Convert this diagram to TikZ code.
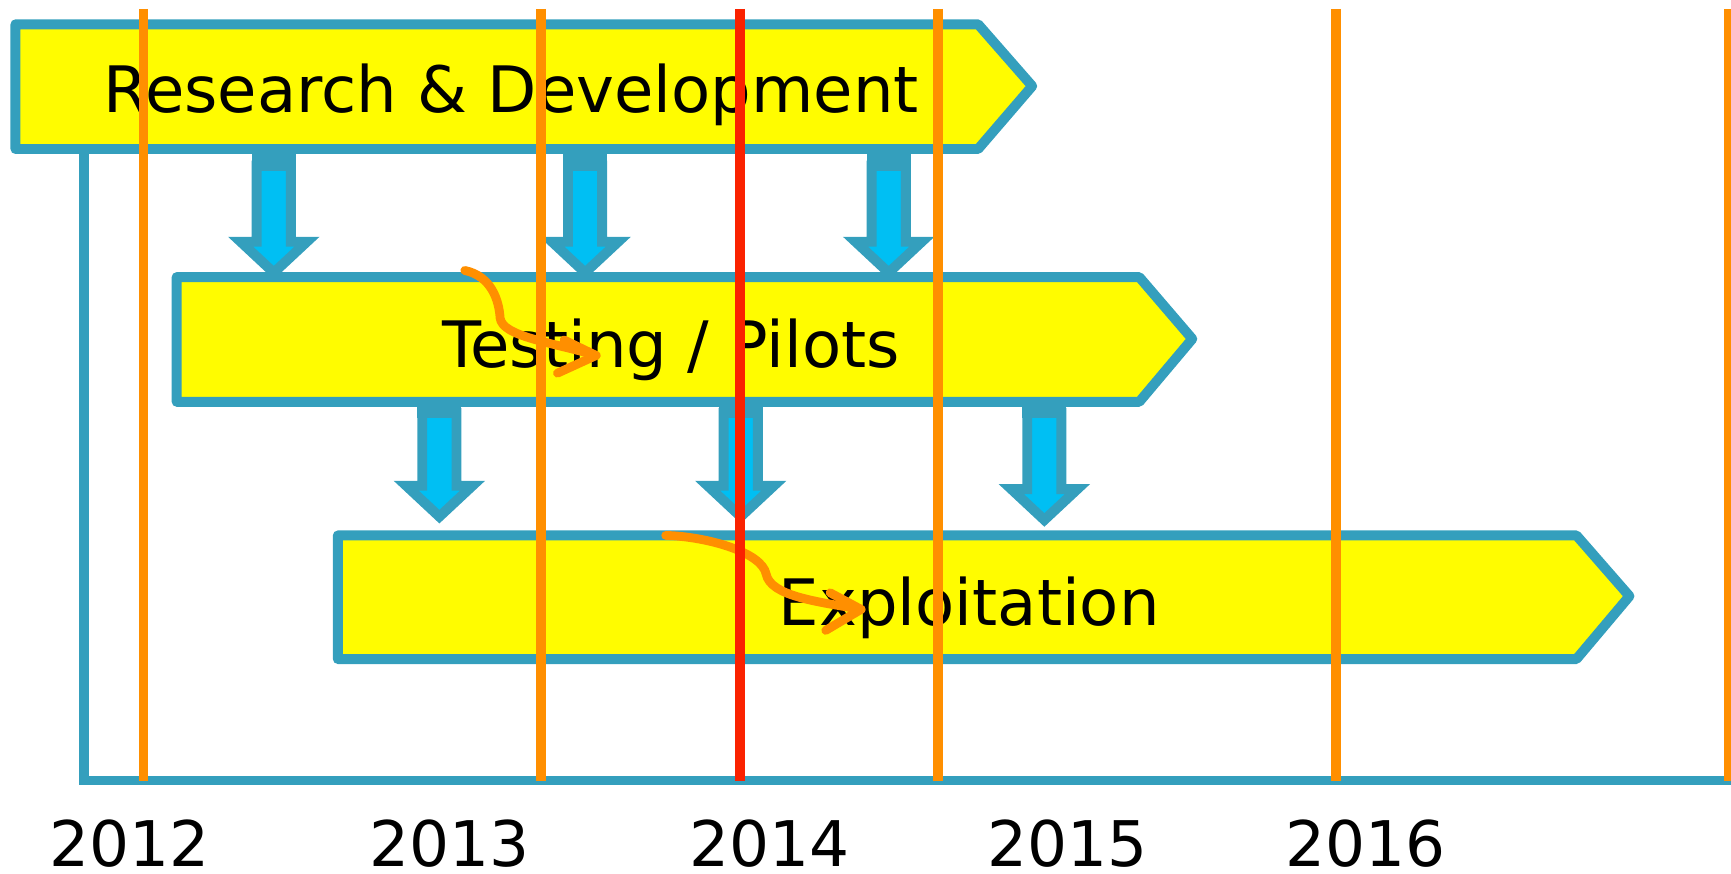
\documentclass[tikz,border=0pt]{standalone}
\usepackage{fontspec}
\setmainfont{DejaVu Sans}
\usepackage{tikz}
\usetikzlibrary{arrows}
\definecolor{barteal}{RGB}{52,159,189}
\definecolor{baryellow}{RGB}{255,252,0}
\definecolor{arrowblue}{RGB}{0,191,243}
\definecolor{yearorange}{RGB}{255,143,0}
\definecolor{nowred}{RGB}{250,34,0}
\tikzset{
	phasebar/.style={draw=barteal, fill=baryellow, line width=4.5pt, line join=round},
	flowdown/.style={draw=barteal, fill=arrowblue, line width=4.5pt, line join=miter},
	axisline/.style={draw=barteal, line width=4.5pt},
	yearline/.style={draw=yearorange, line width=4.5pt},
	nowline/.style={draw=nowred, line width=4.5pt},
	shiftcurve/.style={draw=yearorange, line width=4pt, line cap=round, line join=round},
	phaselabel/.style={anchor=base, inner sep=0pt, font=\fontsize{29}{35}\selectfont},
	yearlabel/.style={anchor=base, inner sep=0pt, font=\fontsize{28.5}{34}\selectfont}
}
% block arrow: x, bar bottom, top, head base, tip
\newcommand{\flowarrow}[5]{%
	\draw[flowdown] (#1-15.5,#3) -- (#1-15.5,#4) -- (#1-30,#4) -- (#1,#5) -- (#1+30,#4) -- (#1+15.5,#4) -- (#1+15.5,#3) -- cycle;
	\fill[barteal] (#1-20,#2) rectangle (#1+20,#3+4.5);
}

\begin{document}
\begin{tikzpicture}[x=0.5pt, y=-0.5pt]
	\useasboundingbox (0,0) rectangle (1568,791);

	% time axis
	\draw[axisline] (76,135) -- (76,707) -- (1572,707);

	% phases
	\draw[phasebar] (14,22) -- (886,22) -- (935,78) -- (886,135) -- (14,135) -- cycle;
	\draw[phasebar] (160,251) -- (1032,251) -- (1080,307) -- (1032,364) -- (160,364) -- cycle;
	\draw[phasebar] (306,485) -- (1428,485) -- (1476,540) -- (1428,597) -- (306,597) -- cycle;

	\node[phaselabel] (rdlabel) at (463,102) {Research \& Development};
	\node[phaselabel] (testlabel) at (608,333) {Testing / Pilots};
	\node[phaselabel] (exploitlabel) at (878,567) {Exploitation};

	% hand-over arrows
	\flowarrow{248}{135}{150}{219}{247}
	\flowarrow{530}{135}{150}{219}{247}
	\flowarrow{805}{135}{150}{219}{247}

	\flowarrow{398}{364}{374}{440}{468}
	\flowarrow{671}{364}{374}{440}{468}
	\flowarrow{946}{364}{374}{443}{471}

	% shifted starts
	\coordinate (teststart) at (421,245);
	\coordinate (testend) at (540,322);
	\draw[shiftcurve] (teststart) .. controls (445,250) and (452,272) .. (453,288)
		.. controls (455,305) and (500,310) .. (testend);
	\draw[shiftcurve] (505,338) -- (testend) -- (511,308);

	\coordinate (exploitstart) at (603,485);
	\coordinate (exploitend) at (780,552);
	\draw[shiftcurve] (exploitstart) .. controls (640,486) and (690,500) .. (694,520)
		.. controls (698,540) and (740,545) .. (exploitend);
	\draw[shiftcurve] (748,571) -- (exploitend) -- (752,537);

	% years
	\draw[yearline] (130,8) -- (130,707);
	\draw[yearline] (490,8) -- (490,707);
	\draw[yearline] (850,8) -- (850,707);
	\draw[yearline] (1210,8) -- (1210,707);
	\draw[yearline] (1566,8) -- (1566,707);
	\draw[nowline] (670,8) -- (670,707);

	\node[yearlabel] (y2012) at (117,785) {2012};
	\node[yearlabel] (y2013) at (407,785) {2013};
	\node[yearlabel] (y2014) at (697,785) {2014};
	\node[yearlabel] (y2015) at (967,785) {2015};
	\node[yearlabel] (y2016) at (1237,785) {2016};
\end{tikzpicture}
\end{document}
